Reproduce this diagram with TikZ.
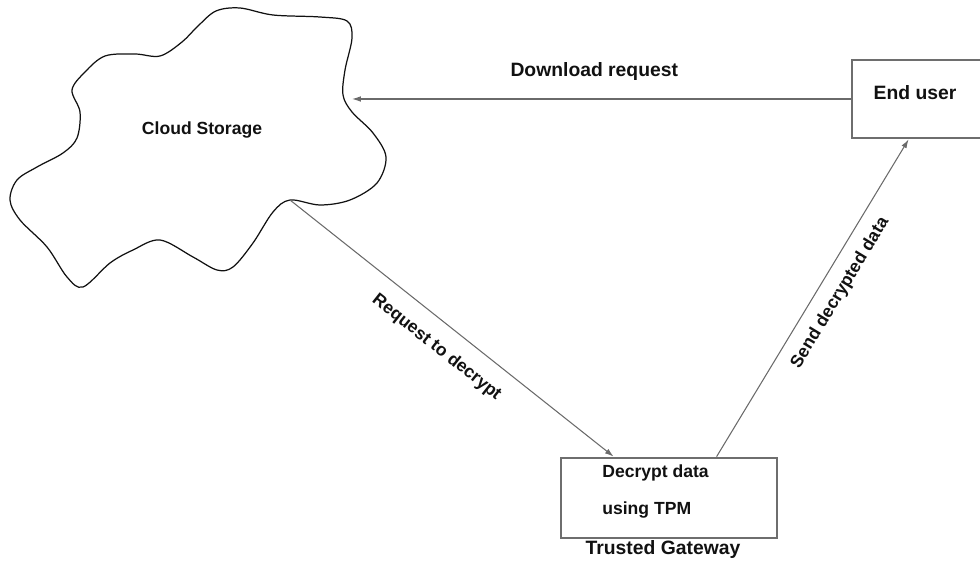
\documentclass[tikz,border=0pt]{standalone}
\usepackage{fontspec}
\setmainfont{Liberation Sans}
\usepackage{xcolor}
\usepackage{tikz}
\usetikzlibrary{calc,arrows.meta}
\definecolor{ink}{HTML}{111111}
\definecolor{wire}{HTML}{6A6A6A}
\definecolor{frame}{HTML}{6E6E6E}
\tikzset{
  outline/.style={draw=ink, line width=0.7pt, line join=round},
  conn/.style={draw=wire, line width=0.6pt, -{Latex[length=5pt,width=3.2pt]}},
  boxed/.style={draw=frame, line width=1.6pt, rectangle, inner sep=0pt},
  lab/.style={text=ink, font=\bfseries\fontsize{10}{12}\selectfont, inner sep=0pt},
  labl/.style={text=ink, font=\bfseries\fontsize{11}{13}\selectfont, inner sep=0pt},
}

\begin{document}
\begin{tikzpicture}[x=0.02cm, y=-0.02cm]
  \useasboundingbox (0,0) rectangle (980,563);
  \clip (0,0) rectangle (980,563);

  % cloud
  \draw[outline] plot[smooth cycle, tension=0.55] coordinates {
    (10,200) (17,180) (37,167) (63,153) (77,138) (80,112) (72,90)
    (85,72) (105,56) (135,54) (160,56) (182,42) (198,26) (216,11)
    (240,8) (273,15) (320,17) (347,21) (352,38) (345,70) (343,95)
    (352,112) (373,133) (386,157) (377,183) (350,200) (320,205)
    (290,200) (273,212) (253,243) (233,267) (217,270) (193,257)
    (160,240) (133,250) (110,263) (83,287) (67,277) (47,247) (20,220)};
  \node[lab] (cloudlbl) at (202,130) {Cloud Storage};
  \coordinate (dl) at (352,99);
  \coordinate (notch) at (290,200);

  % boxes
  \node[boxed, minimum width=2.96cm, minimum height=1.56cm] (enduser) at (926,99) {};
  \node[labl] (eulbl) at (915,93) {End user};
  \node[boxed, minimum width=4.32cm, minimum height=1.6cm] (gateway) at (669,498) {};
  \node[lab, anchor=west] (dec1) at (602,473) {Decrypt data};
  \node[lab, anchor=west] (dec2) at (602,510) {using TPM};
  \node[labl] (gwlbl) at (663,550) {Trusted Gateway};

  % flows
  \draw[conn] (enduser.west) -- node[labl, midway, above=10pt, xshift=-4] {Download request} (dl);
  \draw[conn] (notch) -- node[lab, pos=0.5, sloped, below=9pt] {Request to decrypt} ($(gateway.north west)+(54,0)$);
  \draw[conn] ($(gateway.north west)+(157,0)$) -- node[lab, pos=0.55, sloped, below=7pt] {Send decrypted data} ($(enduser.south west)+(58,0)$);
\end{tikzpicture}
\end{document}
